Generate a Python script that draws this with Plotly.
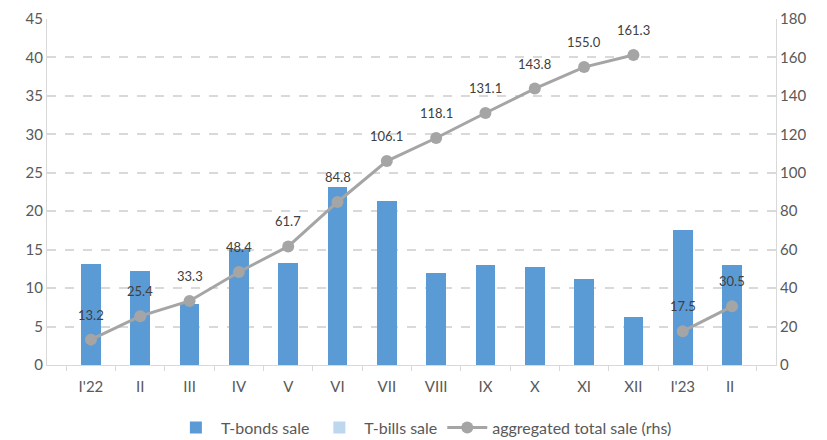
import plotly.graph_objects as go

categories = ["I'22", "II", "III", "IV", "V", "VI", "VII", "VIII", "IX", "X", "XI", "XII", "I'23", "II "]
tbonds = [13.2, 12.2, 7.9, 15.1, 13.3, 23.1, 21.3, 12.0, 13.0, 12.7, 11.2, 6.3, 17.5, 13.0]
tbills = [0, 0, 0, 0, 0, 0, 0, 0, 0, 0, 0, 0, 0, 0]
agg_2022 = [13.2, 25.4, 33.3, 48.4, 61.7, 84.8, 106.1, 118.1, 131.1, 143.8, 155.0, 161.3]
agg_2023 = [17.5, 30.5]

FONT = "Lato, sans-serif"
TICK_C = "#595959"
LINE_C = "#a5a5a5"

fig = go.Figure()
fig.add_trace(go.Bar(x=categories, y=tbonds, name="T-bonds sale", marker_color="#5b9bd5",
                     marker_line_width=0, width=0.4))
fig.add_trace(go.Bar(x=categories, y=tbills, name="T-bills sale", marker_color="#bdd7ee",
                     marker_line_width=0, width=0.4))
fig.add_trace(go.Scatter(x=categories[:12], y=agg_2022, name="aggregated total sale (rhs)", yaxis="y2",
                         mode="lines+markers", line=dict(color=LINE_C, width=3),
                         marker=dict(size=12, color=LINE_C)))
fig.add_trace(go.Scatter(x=categories[12:], y=agg_2023, name="aggregated total sale (rhs)", yaxis="y2",
                         mode="lines+markers", line=dict(color=LINE_C, width=3),
                         marker=dict(size=12, color=LINE_C), showlegend=False))

annots = []
for xs, ys in ((categories[:12], agg_2022), (categories[12:], agg_2023)):
    for x, y in zip(xs, ys):
        annots.append(dict(x=x, y=y, xref="x", yref="y2", text=f"{y:.1f}", showarrow=False,
                           yshift=25, font=dict(color="#404040", size=13, family=FONT)))

fig.update_layout(
    width=827, height=440,
    margin=dict(l=47, r=51, t=19, b=75, autoexpand=False),
    plot_bgcolor="white", paper_bgcolor="white",
    barmode="stack",
    font=dict(family=FONT, size=14, color=TICK_C),
    annotations=annots,
    xaxis=dict(type="category", tickson="boundaries", ticks="outside", ticklen=5,
               tickcolor="#d9d9d9", showline=True, linecolor="#d9d9d9", linewidth=1,
               tickfont=dict(size=15, color=TICK_C), showgrid=False, ticklabelstandoff=8),
    yaxis=dict(range=[0, 45], dtick=5, showgrid=True, gridcolor="#d9d9d9", griddash="dash",
               gridwidth=1.5, showline=True, linecolor="#d9d9d9", zeroline=False,
               tickfont=dict(size=15, color=TICK_C), ticks="", ticklen=0),
    yaxis2=dict(range=[0, 180], dtick=20, overlaying="y", side="right", showgrid=False,
                showline=True, linecolor="#d9d9d9", zeroline=False,
                tickfont=dict(size=15, color=TICK_C)),
    legend=dict(orientation="h", x=0.517, xanchor="center", yref="container", y=0.028,
                yanchor="middle", itemwidth=40,
                font=dict(size=16, color=TICK_C), traceorder="normal"),
    showlegend=True,
)

fig.write_html("out.html")
